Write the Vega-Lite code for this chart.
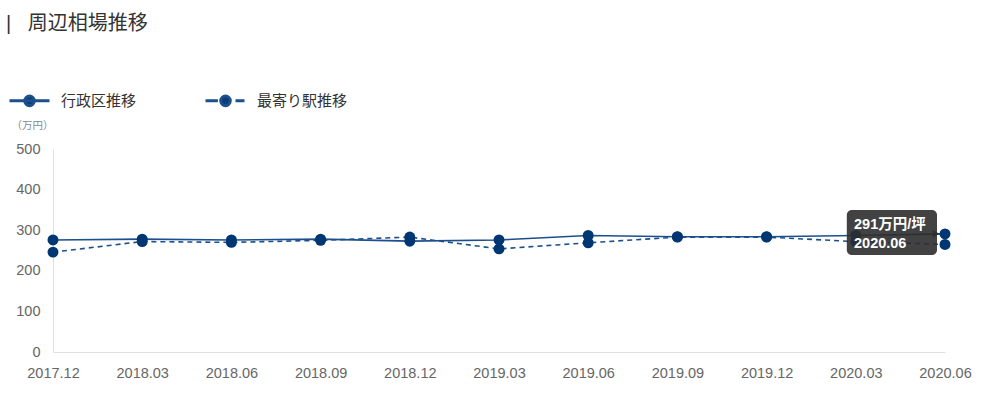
{
  "$schema": "https://vega.github.io/schema/vega-lite/v6.json",
  "width": 892,
  "height": 203,
  "autosize": "none",
  "padding": {"left": 53, "top": 149, "right": 48, "bottom": 45},
  "background": "white",
  "title": {
    "text": "|\u00a0\u00a0\u00a0周辺相場推移",
    "anchor": "start",
    "frame": "group",
    "orient": "top",
    "offset": 45,
    "dx": -47,
    "font": "Liberation Sans, Noto Sans CJK JP",
    "fontSize": 20,
    "fontWeight": "normal",
    "color": "#333333"
  },
  "config": {
    "view": {"stroke": null},
    "font": "Liberation Sans"
  },
  "datasets": {
    "main": [
      {"date": "2017.12", "series": "行政区推移", "value": 276},
      {"date": "2018.03", "series": "行政区推移", "value": 278},
      {"date": "2018.06", "series": "行政区推移", "value": 276},
      {"date": "2018.09", "series": "行政区推移", "value": 278},
      {"date": "2018.12", "series": "行政区推移", "value": 273},
      {"date": "2019.03", "series": "行政区推移", "value": 276},
      {"date": "2019.06", "series": "行政区推移", "value": 287},
      {"date": "2019.09", "series": "行政区推移", "value": 284},
      {"date": "2019.12", "series": "行政区推移", "value": 284},
      {"date": "2020.03", "series": "行政区推移", "value": 287},
      {"date": "2020.06", "series": "行政区推移", "value": 291},
      {"date": "2017.12", "series": "最寄り駅推移", "value": 246},
      {"date": "2018.03", "series": "最寄り駅推移", "value": 272},
      {"date": "2018.06", "series": "最寄り駅推移", "value": 270},
      {"date": "2018.09", "series": "最寄り駅推移", "value": 275},
      {"date": "2018.12", "series": "最寄り駅推移", "value": 283},
      {"date": "2019.03", "series": "最寄り駅推移", "value": 254},
      {"date": "2019.06", "series": "最寄り駅推移", "value": 269},
      {"date": "2019.09", "series": "最寄り駅推移", "value": 283},
      {"date": "2019.12", "series": "最寄り駅推移", "value": 283},
      {"date": "2020.03", "series": "最寄り駅推移", "value": 272},
      {"date": "2020.06", "series": "最寄り駅推移", "value": 265}
    ],
    "tip": [
      {"date": "2020.06", "value": 291, "label": ["291万円/坪", "2020.06"]}
    ]
  },
  "encoding": {
    "x": {
      "field": "date",
      "type": "ordinal",
      "scale": {"type": "point", "padding": 0},
      "axis": {
        "title": null,
        "labelAngle": 0,
        "ticks": false,
        "domainColor": "#e0e0e0",
        "labelColor": "#666666",
        "labelFontSize": 14.5,
        "labelPadding": 14,
        "grid": false
      }
    },
    "y": {
      "field": "value",
      "type": "quantitative",
      "scale": {"domain": [0, 500]},
      "axis": {
        "title": "（万円）",
        "titleAngle": 0,
        "titleX": -21,
        "titleY": -24,
        "titleAlign": "center",
        "titleBaseline": "middle",
        "titleFontSize": 10.5,
        "titleFontWeight": "normal",
        "titleColor": "#888888",
        "titleFont": "Noto Sans CJK JP",
        "values": [0, 100, 200, 300, 400, 500],
        "ticks": false,
        "grid": false,
        "domainColor": "#e0e0e0",
        "labelColor": "#666666",
        "labelFontSize": 14.5,
        "labelPadding": 13
      }
    }
  },
  "layer": [
    {
      "data": {"name": "main"},
      "transform": [{"filter": "datum.series === '行政区推移'"}],
      "mark": {"type": "line", "strokeWidth": 1.6},
      "encoding": {
        "color": {
          "field": "series",
          "type": "nominal",
          "scale": {"domain": ["行政区推移", "最寄り駅推移"], "range": ["#1d4f8c", "#1d4f8c"]},
          "legend": {
            "title": null,
            "orient": "none",
            "direction": "horizontal",
            "legendX": -45,
            "legendY": -70,
            "symbolType": "M-1,0H1M0.24,0A0.24,0.24 0 1,1 -0.24,0A0.24,0.24 0 1,1 0.24,0Z",
            "symbolSize": 1600,
            "symbolStrokeWidth": 3,
            "labelFont": "Noto Sans CJK JP",
            "labelFontSize": 15,
            "labelColor": "#333333",
            "labelOffset": 10,
            "columnPadding": 62,
            "encode": {
              "symbols": {
                "update": {
                  "stroke": {"value": "#0b3d7a"},
                  "fill": {"value": "#0b3d7a"},
                  "shape": {"signal": "datum.value === '最寄り駅推移' ? 'M-1,0H-0.38M0.5,0H0.95M0.24,0A0.24,0.24 0 1,1 -0.24,0A0.24,0.24 0 1,1 0.24,0Z' : 'M-1,0H1M0.24,0A0.24,0.24 0 1,1 -0.24,0A0.24,0.24 0 1,1 0.24,0Z'"}
                }
              }
            }
          }
        }
      }
    },
    {
      "data": {"name": "main"},
      "transform": [{"filter": "datum.series === '最寄り駅推移'"}],
      "mark": {"type": "line", "strokeWidth": 1.6, "strokeDash": [5, 4]},
      "encoding": {
        "color": {"field": "series", "type": "nominal"}
      }
    },
    {
      "data": {"name": "main"},
      "mark": {"type": "point", "filled": true, "size": 120, "color": "#003672", "opacity": 1},
      "encoding": {"detail": {"field": "series"}}
    },
    {
      "data": {"name": "tip"},
      "mark": {"type": "point", "shape": "triangle-right", "filled": true, "size": 60, "color": "#2b2b2b", "xOffset": -9, "opacity": 0.9}
    },
    {
      "data": {"name": "tip"},
      "mark": {"type": "rect", "color": "#2e2e2e", "opacity": 0.9, "cornerRadius": 5, "xOffset": -9, "x2Offset": -8},
      "encoding": {
        "x": {"datum": "2020.03"},
        "x2": {"datum": "2020.06"},
        "y": {"datum": 350},
        "y2": {"datum": 239}
      }
    },
    {
      "data": {"name": "tip"},
      "mark": {
        "type": "text",
        "align": "left",
        "baseline": "middle",
        "color": "white",
        "fontSize": 14.5,
        "fontWeight": "bold",
        "lineHeight": 19,
        "xOffset": -91,
        "yOffset": -9,
        "font": "Liberation Sans, Noto Sans CJK JP"
      },
      "encoding": {"text": {"field": "label"}}
    }
  ]
}
